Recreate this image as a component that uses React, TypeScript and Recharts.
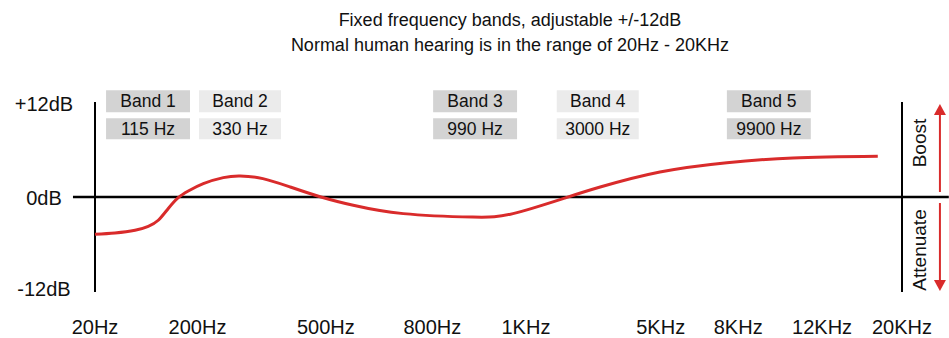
import React from 'react';
import {
  ComposedChart,
  Line,
  XAxis,
  YAxis,
  ReferenceLine,
  ReferenceArea,
  ReferenceDot,
} from 'recharts';

// Horizontal position is an abstract 0..100 display scale (the reference's frequency axis is illustrative)
const curvePos = [0, 2.48, 4.96, 6.6, 7.84, 9.08, 10.32, 11.56, 13.42, 15.9, 18.0, 20.8, 24.2, 28.0, 32.0, 38.2, 46.8, 51.8, 58.0, 62.6, 70.0, 78.3, 86.5, 97.0];
const curveGain = [-4.71, -4.55, -4.21, -3.7, -2.94, -1.45, -0.08, 0.76, 1.69, 2.45, 2.65, 2.32, 1.26, 0, -1.05, -2.1, -2.53, -2.1, -0.2, 1.26, 3.16, 4.34, 4.93, 5.14];

const freqTickPos = [0, 12.7, 28.6, 41.8, 53.4, 70.1, 79.7, 90.1, 100];
const freqTickLabels = ['20Hz', '200Hz', '500Hz', '800Hz', '1KHz', '5KHz', '8KHz', '12KHz', '20KHz'];

const gainTicks = [-12, 0, 12];
const gainTickLabels = ['-12dB', '0dB', '+12dB'];

const bandNames = ['Band 1', 'Band 2', 'Band 3', 'Band 4', 'Band 5'];
const bandFreqs = ['115 Hz', '330 Hz', '990 Hz', '3000 Hz', '9900 Hz'];
const bandCenters = [6.57, 17.97, 47.1, 62.3, 83.5];
const bandHalfWidths = [5.2, 5.08, 5.2, 5.08, 5.2];
const bandShades = ['#d3d3d3', '#ebebeb', '#d3d3d3', '#ebebeb', '#d3d3d3'];

const data = curvePos.map((p, i) => ({ pos: p, gain: curveGain[i] }));

const RED = '#d92b2b';
const FONT = '"Liberation Sans", Arial, sans-serif';

const XTick = (props: any) => {
  const { x, y, payload } = props;
  const idx = freqTickPos.indexOf(payload.value);
  return (
    <text x={x} y={y + 35} textAnchor="middle" dominantBaseline="central" fontSize={20} fill="#111" fontFamily={FONT}>
      {idx >= 0 ? freqTickLabels[idx] : ''}
    </text>
  );
};

const YTick = (props: any) => {
  const { x, y, payload } = props;
  const idx = gainTicks.indexOf(payload.value);
  const adj = payload.value === 12 ? 2 : payload.value === -12 ? -3 : 1;
  return (
    <text x={x - 51} y={y + adj} textAnchor="middle" dominantBaseline="central" fontSize={20} fill="#111" fontFamily={FONT}>
      {idx >= 0 ? gainTickLabels[idx] : ''}
    </text>
  );
};

const upHead = (props: any) => {
  const { cx, cy } = props;
  return <path d={`M${cx},${cy} L${cx + 6},${cy + 11} L${cx - 6},${cy + 11} Z`} fill={RED} />;
};
const downHead = (props: any) => {
  const { cx, cy } = props;
  return <path d={`M${cx},${cy} L${cx + 6},${cy - 11} L${cx - 6},${cy - 11} Z`} fill={RED} />;
};
const sideText = (label: string) => (props: any) => {
  const { cx, cy } = props;
  return (
    <text
      x={cx}
      y={cy}
      transform={`rotate(-90 ${cx} ${cy})`}
      textAnchor="middle"
      dominantBaseline="central"
      fontSize={19}
      fill="#111"
      fontFamily={FONT}
    >
      {label}
    </text>
  );
};

export default function App() {
  return (
    <div style={{ position: 'absolute', left: 0, top: 0, width: 949, height: 338, background: '#fff', fontFamily: FONT }}>
      <div
        style={{
          position: 'absolute',
          left: 260,
          top: 8,
          width: 500,
          textAlign: 'center',
          fontSize: 18,
          lineHeight: '25px',
          color: '#111',
        }}
      >
        <div>Fixed frequency bands, adjustable +/-12dB</div>
        <div>Normal human hearing is in the range of 20Hz - 20KHz</div>
      </div>
      <ComposedChart width={949} height={338} data={data} margin={{ top: 102, right: 47, left: 0, bottom: 16 }}>
        <XAxis
          dataKey="pos"
          type="number"
          domain={[0, 100]}
          ticks={freqTickPos}
          interval={0}
          axisLine={false}
          tickLine={false}
          tickSize={0}
          tickMargin={0}
          height={30}
          tick={<XTick />}
        />
        <YAxis
          type="number"
          domain={[-12, 12]}
          ticks={gainTicks}
          axisLine={false}
          tickLine={false}
          tickSize={0}
          tickMargin={0}
          width={95}
          tick={<YTick />}
        />
        {bandNames.map((name, i) => (
          <ReferenceArea
            key={'n' + i}
            x1={bandCenters[i] - bandHalfWidths[i]}
            x2={bandCenters[i] + bandHalfWidths[i]}
            y1={10.7}
            y2={13.5}
            fill={bandShades[i]}
            fillOpacity={1}
            stroke="none"
            ifOverflow="visible"
            label={{ value: name, position: 'center', fontSize: 17.5, fill: '#111' }}
          />
        ))}
        {bandFreqs.map((f, i) => (
          <ReferenceArea
            key={'f' + i}
            x1={bandCenters[i] - bandHalfWidths[i]}
            x2={bandCenters[i] + bandHalfWidths[i]}
            y1={7.3}
            y2={9.95}
            fill={bandShades[i]}
            fillOpacity={1}
            stroke="none"
            ifOverflow="visible"
            label={{ value: f, position: 'center', fontSize: 17.5, fill: '#111' }}
          />
        ))}
        <ReferenceLine segment={[{ x: 0, y: -12 }, { x: 0, y: 12 }]} stroke="#000" strokeWidth={2} ifOverflow="visible" />
        <ReferenceLine segment={[{ x: 100, y: -12 }, { x: 100, y: 12 }]} stroke="#000" strokeWidth={2} ifOverflow="visible" />
        <ReferenceLine segment={[{ x: -2.73, y: 0 }, { x: 105.8, y: 0 }]} stroke="#000" strokeWidth={2.5} ifOverflow="visible" />
        <ReferenceLine segment={[{ x: 104.7, y: 10.5 }, { x: 104.7, y: 0.63 }]} stroke={RED} strokeWidth={2} ifOverflow="visible" />
        <ReferenceLine segment={[{ x: 104.7, y: -0.76 }, { x: 104.7, y: -10.6 }]} stroke={RED} strokeWidth={2} ifOverflow="visible" />
        <ReferenceDot x={104.7} y={11.75} r={0} ifOverflow="visible" shape={upHead} />
        <ReferenceDot x={104.7} y={-11.87} r={0} ifOverflow="visible" shape={downHead} />
        <ReferenceDot x={102.2} y={6.82} r={0} ifOverflow="visible" shape={sideText('Boost')} />
        <ReferenceDot x={102.2} y={-6.69} r={0} ifOverflow="visible" shape={sideText('Attenuate')} />
        <Line
          dataKey="gain"
          type="natural"
          stroke={RED}
          strokeWidth={3}
          dot={false}
          activeDot={false}
          isAnimationActive={false}
        />
      </ComposedChart>
    </div>
  );
}
